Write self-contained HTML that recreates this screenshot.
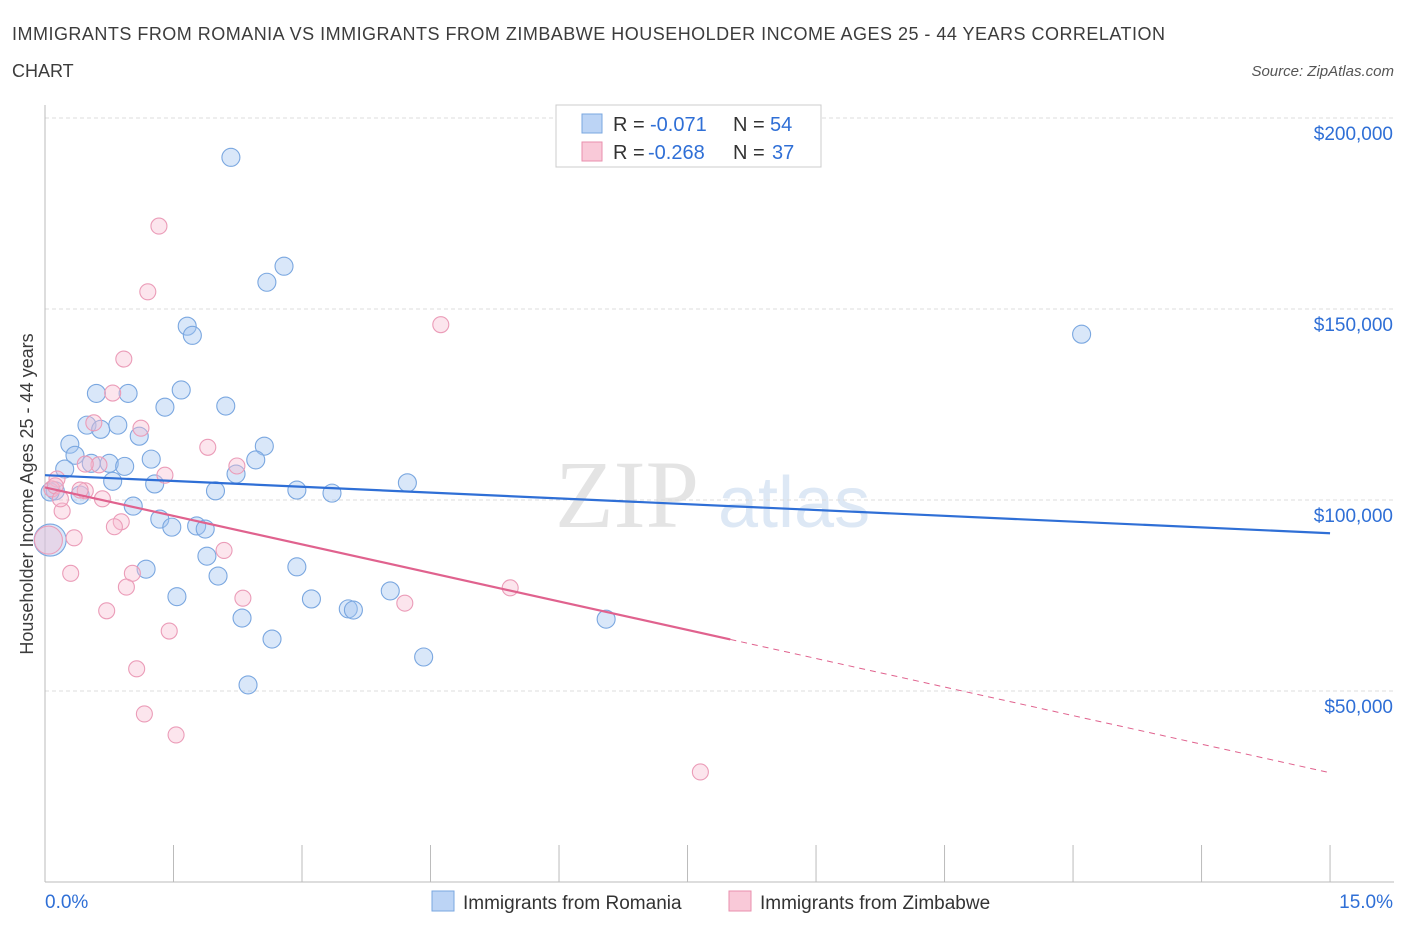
<!DOCTYPE html>
<html><head><meta charset="utf-8"><style>
body{margin:0;background:#fff;font-family:"Liberation Sans",sans-serif;}
</style></head><body>
<svg width="1406" height="930" xmlns="http://www.w3.org/2000/svg" font-family="Liberation Sans, sans-serif">
<text x="12" y="40" font-size="18" fill="#3c3c3c" textLength="1153" lengthAdjust="spacing">IMMIGRANTS FROM ROMANIA VS IMMIGRANTS FROM ZIMBABWE HOUSEHOLDER INCOME AGES 25 - 44 YEARS CORRELATION</text>
<text x="12" y="77" font-size="18" fill="#3c3c3c">CHART</text>
<text x="1394" y="76" font-size="15" fill="#555" text-anchor="end" font-style="italic">Source: ZipAtlas.com</text>
<text x="555" y="527" font-size="96" fill="#e4e4e4" font-family="Liberation Serif, serif">ZIP</text>
<text x="718" y="527" font-size="72" fill="#dde8f5">atlas</text>
<g id="grid"></g>
<g id="axes"></g>
<text transform="translate(33,494) rotate(-90)" font-size="18" fill="#3c3c3c" text-anchor="middle">Householder Income Ages 25 - 44 years</text>
<g id="marks"></g>
<g>
<rect x="556" y="105" width="265" height="62" fill="#fff" stroke="#ccc"/>
<rect x="582" y="114" width="20" height="19" fill="#bcd4f5" stroke="#7aa7e0"/>
<text x="613" y="131" font-size="20" fill="#333">R =</text>
<text x="650" y="131" font-size="20" fill="#2f6fd6">-0.071</text>
<text x="733" y="131" font-size="20" fill="#333">N =</text>
<text x="770" y="131" font-size="20" fill="#2f6fd6">54</text>
<rect x="582" y="142" width="20" height="19" fill="#f9c9d8" stroke="#e98fae"/>
<text x="613" y="159" font-size="20" fill="#333">R =</text>
<text x="648" y="159" font-size="20" fill="#2f6fd6">-0.268</text>
<text x="733" y="159" font-size="20" fill="#333">N =</text>
<text x="772" y="159" font-size="20" fill="#2f6fd6">37</text>
</g>
<g>
<rect x="432" y="891" width="22" height="20" fill="#bcd4f5" stroke="#7aa7e0"/>
<text x="463" y="909" font-size="19" fill="#333">Immigrants from Romania</text>
<rect x="729" y="891" width="22" height="20" fill="#f9c9d8" stroke="#e98fae"/>
<text x="760" y="909" font-size="19" fill="#333">Immigrants from Zimbabwe</text>
</g>
</svg>
<script>
const yTicks=[50000,100000,150000,200000];
const yTickLabels=["$50,000","$100,000","$150,000","$200,000"];
const xTickLabels=["0.0%","15.0%"];
const romaniaX=[2.17,2.79,2.59,1.66,1.72,12.10,0.60,0.97,1.59,1.40,2.11,0.29,0.49,0.65,0.85,1.10,2.56,0.35,0.54,0.75,0.93,1.24,2.46,2.23,0.23,0.79,1.28,0.12,0.41,1.99,2.94,3.35,4.23,1.03,1.34,1.48,1.77,1.87,1.89,2.02,1.18,2.94,1.54,3.11,4.03,3.54,3.60,2.30,6.55,2.65,4.42,2.37,0.06,0.06];
const romaniaY=[189700,161200,157000,145500,143100,143400,127900,127900,128800,124300,124600,114600,119600,118500,119600,116700,114100,111700,109600,109600,108800,110700,110500,106800,108100,104900,104200,102400,101300,102400,102600,101800,104500,98400,95000,92900,93200,92400,85300,80100,81900,82500,74700,74100,76200,71500,71200,69100,68800,63600,58900,51600,89500,102100];
const romaniaR=[9,9,9,9,9,9,9,9,9,9,9,9,9,9,9,9,9,9,9,9,9,9,9,9,9,9,9,9,9,9,9,9,9,9,9,9,9,9,9,9,9,9,9,9,9,9,9,9,9,9,9,9,16,9];
const zimX=[1.33,1.20,4.62,0.92,0.79,0.57,1.12,1.90,2.24,1.40,0.63,0.47,0.14,0.08,0.20,0.67,0.89,0.81,0.34,2.09,0.30,1.02,0.95,2.31,4.20,5.43,0.72,1.45,1.07,1.16,1.53,7.65,0.47,0.12,0.04,0.41,0.18];
const zimY=[171700,154500,145900,136900,128000,120200,118800,113800,108900,106500,109200,102400,105500,102900,97100,100300,94300,93000,90100,86800,80800,80800,77200,74300,73000,77000,71000,65700,55800,44000,38500,28800,109400,103700,89500,102600,100300];
const zimR=[8,8,8,8,8,8,8,8,8,8,8,8,8,8,8,8,8,8,8,8,8,8,8,8,8,8,8,8,8,8,8,8,8,8,14,8,8];
const romaniaTrend=[[0,106500],[15,91300]];
const zimTrend=[[0,103300],[8,63500],[15,28600]];
const NS="http://www.w3.org/2000/svg";
const X=v=>45+v*85.67, Y=v=>882-v/50000*191;
function mk(t,a,p){const e=document.createElementNS(NS,t);for(const k in a)e.setAttribute(k,a[k]);p.appendChild(e);return e;}
const grid=document.getElementById('grid'),axes=document.getElementById('axes'),marks=document.getElementById('marks');
yTicks.forEach((v,i)=>{
 const l=mk('line',{x1:45,x2:1394,y1:Y(v),y2:Y(v),stroke:'#ddd','stroke-dasharray':'4,3'},grid);
 
 
 const t=mk('text',{x:1393,y:Y(v)+22,'font-size':19,fill:'#2f6fd6','text-anchor':'end'},axes);t.textContent=yTickLabels[i];
 
 
});
const ax=mk('line',{x1:45,x2:1394,y1:882,y2:882,stroke:'#bbb'},axes);


const ay=mk('line',{x1:45,x2:45,y1:105,y2:882,stroke:'#bbb'},axes);


for(let i=0;i<=10;i++){const t=mk('line',{x1:X(i*1.5),x2:X(i*1.5),y1:845,y2:882,stroke:'#bbb'},axes);
 
 }
[[0,'start',45],[1,'end',1393]].forEach(([i,a,x])=>{const t=mk('text',{x:x,y:908,'font-size':19,fill:'#2f6fd6','text-anchor':a},axes);t.textContent=xTickLabels[i];
 
 });
romaniaX.forEach((x,i)=>{const c=mk('circle',{cx:X(x),cy:Y(romaniaY[i]),r:romaniaR[i],fill:'rgba(160,196,240,0.4)',stroke:'#7aa7e0','stroke-width':1.1},marks);
 
 });
zimX.forEach((x,i)=>{const c=mk('circle',{cx:X(x),cy:Y(zimY[i]),r:zimR[i],fill:'rgba(248,190,210,0.4)',stroke:'#eb9cb8','stroke-width':1.1},marks);
 
 });
const bl=mk('line',{x1:X(romaniaTrend[0][0]),y1:Y(romaniaTrend[0][1]),x2:X(romaniaTrend[1][0]),y2:Y(romaniaTrend[1][1]),stroke:'#2f6fd6','stroke-width':2.2},marks);


const pl=mk('line',{x1:X(zimTrend[0][0]),y1:Y(zimTrend[0][1]),x2:X(zimTrend[1][0]),y2:Y(zimTrend[1][1]),stroke:'#e0628e','stroke-width':2.2},marks);


const pd=mk('line',{x1:X(zimTrend[1][0]),y1:Y(zimTrend[1][1]),x2:X(zimTrend[2][0]),y2:Y(zimTrend[2][1]),stroke:'#e0628e','stroke-width':1,'stroke-dasharray':'6,5'},marks);


</script>
</body></html>
